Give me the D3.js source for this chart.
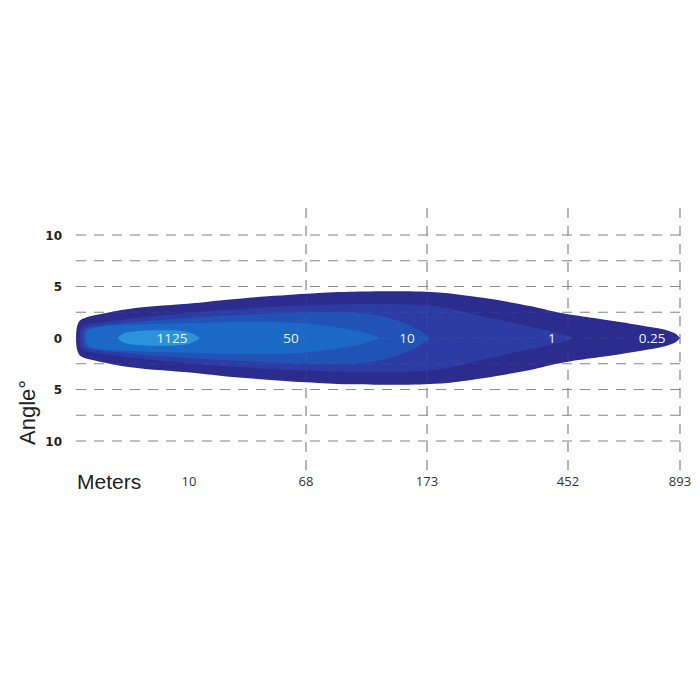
<!DOCTYPE html>
<html>
<head>
<meta charset="utf-8">
<script src="https://cdn.jsdelivr.net/npm/d3@7"></script>
<style>
  body { margin: 0; background: #fff; }
</style>
</head>
<body>
<script>
// beam pattern chart: distance (m) vs angle, iso-lux areas

var width = 700
var height = 700

// distance ticks (meters) and angle gridlines
var meterTicks = [10, 68, 173, 452, 893];
var meterLines = [68, 173, 452, 893];
var angleGrid = [-10, -7.5, -5, -2.5, 0, 2.5, 5, 7.5, 10];
var angleTicks = [10, 5, 0, -5, -10];

// iso-lux contours: [meters, half angle in degrees]
var lux025 = [[0,0],[0.09,1.1],[0.35,1.7],[0.9,2.0],[2.1,2.3],[4.8,2.85],[13,3.4],[30,3.75],[68,4.3],[106,4.5],[189,4.45],[284,3.9],[377,3.1],[430,2.5],[452,2.3],[578,1.85],[735,1.25],[834,0.8],[877,0.4],[893,0]];
var lux1 = [[0.35,0],[0.44,0.9],[0.71,1.2],[2.1,1.5],[5.7,2.0],[13,2.5],[40,2.9],[76,3.2],[132,3.3],[189,3.1],[284,2.1],[377,1.1],[436,0.45],[476,0]];
var lux10 = [[0.62,0],[0.71,0.7],[1.06,1.0],[2.1,1.2],[5.7,1.6],[13,2.0],[42,2.3],[76,2.5],[123,2.35],[150,1.6],[167,0.7],[179,0]];
var lux50 = [[0.88,0],[0.97,0.6],[1.33,0.9],[2.1,1.1],[5.7,1.3],[13,1.45],[42,1.55],[68,1.4],[97,1.0],[119,0.5],[132,0]];
var lux1125 = [[3.7,0],[4.1,0.4],[5.2,0.65],[7.4,0.75],[9.2,0.7],[11.5,0.45],[15.4,0]];

var contours = [lux025, lux1, lux10, lux50, lux1125];
var contourColors = ["#2b2c8e", "#2c3ca4", "#2152b6", "#1b69c6", "#2b92dc"];

// labels inside beam
var luxLabels = ["1125", "50", "10", "1", "0.25"];
var luxLabelAt = [8.5, 60.6, 155.6, 420, 783];

// scales (distance axis is not uniform, piecewise over the ticks)
var x = d3.scaleLinear()
    .domain([0].concat(meterTicks))
    .range([76, 189, 306, 427, 568, 680]);
var y = d3.scaleLinear().domain([-10, 10]).range([441, 235]);

var svg = d3.select("body").append("svg")
    .attr("width", width)
    .attr("height", height);

function drawGrid(g) {
  g.selectAll(".hgrid")
    .data(angleGrid)
    .enter().append("line")
      .attr("x1", x(0))
      .attr("x2", x(893))
      .attr("y1", function(d) { return y(d); })
      .attr("y2", function(d) { return y(d); });
  g.selectAll(".vgrid")
    .data(meterLines)
    .enter().append("line")
      .attr("x1", function(d) { return x(d); })
      .attr("x2", function(d) { return x(d); })
      .attr("y1", 208)
      .attr("y2", 470);
  g.selectAll("line")
    .attr("stroke", "#8c8c8c")
    .attr("stroke-width", 1.2)
    .attr("stroke-dasharray", "10,8");
}

// grid under the beam
drawGrid(svg.append("g"));

// beam areas
var beam = d3.area()
    .x(function(d) { return x(d[0]); })
    .y0(function(d) { return y(-d[1]); })
    .y1(function(d) { return y(d[1]); })
    .curve(d3.curveCatmullRom.alpha(0.5));

svg.append("g").selectAll("path")
    .data(contours)
    .enter().append("path")
      .attr("d", beam)
      .attr("fill", function(d, i) { return contourColors[i]; });

// faint grid showing through the beam
drawGrid(svg.append("g").attr("opacity", 0.15));

// lux labels
svg.append("g").selectAll("text")
    .data(luxLabels)
    .enter().append("text")
      .attr("x", function(d, i) { return x(luxLabelAt[i]); })
      .attr("y", y(0) + 5)
      .attr("text-anchor", "middle")
      .attr("font-family", "'Open Sans', sans-serif")
      .attr("font-size", 13.5)
      .attr("fill", "#eef3ff")
      .text(function(d) { return d; });

// angle labels
svg.append("g").selectAll("text")
    .data(angleTicks)
    .enter().append("text")
      .attr("x", 62)
      .attr("y", function(d) { return y(d) + 4.5; })
      .attr("text-anchor", "end")
      .attr("font-family", "'DejaVu Sans', sans-serif")
      .attr("font-weight", "bold")
      .attr("font-size", 12)
      .attr("fill", "#222")
      .text(function(d) { return Math.abs(d); });

svg.append("text")
    .attr("transform", "translate(35,445) rotate(-90)")
    .attr("font-family", "'Liberation Sans', Arial, sans-serif")
    .attr("font-size", 22)
    .attr("fill", "#222")
    .text("Angle°");

// distance labels
svg.append("g").selectAll("text")
    .data(meterTicks)
    .enter().append("text")
      .attr("x", function(d) { return x(d); })
      .attr("y", 486)
      .attr("text-anchor", "middle")
      .attr("font-family", "'Open Sans', sans-serif")
      .attr("font-size", 13)
      .attr("fill", "#333")
      .text(function(d) { return d; });

svg.append("text")
    .attr("x", 77)
    .attr("y", 489)
    .attr("font-family", "'Liberation Sans', Arial, sans-serif")
    .attr("font-size", 21)
    .attr("fill", "#222")
    .text("Meters");
</script>
</body>
</html>
